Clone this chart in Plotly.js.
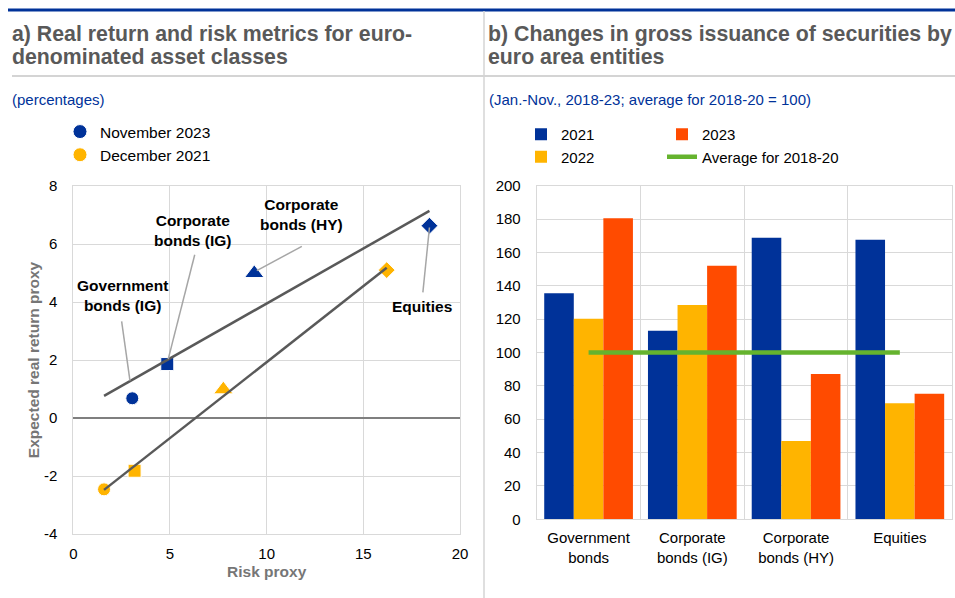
<!DOCTYPE html>
<html>
<head>
<meta charset="utf-8">
<script src="https://cdn.plot.ly/plotly-3.0.1.min.js"></script>
<style>html,body{margin:0;padding:0;background:#fff;}#chart{width:955px;height:598px;}</style>
</head>
<body>
<div id="chart"></div>
<script>
// ---------- Panel a) data ----------
const assetClasses = ['Government bonds (IG)', 'Corporate bonds (IG)', 'Corporate bonds (HY)', 'Equities'];
const assetSymbols = ['circle', 'square', 'triangle-up', 'diamond'];
const nov2023Risk = [3.05, 4.86, 9.36, 18.42];
const nov2023Return = [0.68, 1.86, 4.99, 6.63];
const dec2021Risk = [1.59, 3.17, 7.76, 16.21];
const dec2021Return = [-2.46, -1.82, 0.98, 5.10];
const seriesA = ['November 2023', 'December 2021'];
const riskTicks = [0, 5, 10, 15, 20];
const returnTicks = [-4, -2, 0, 2, 4, 6, 8];
const returnTickText = ['-4', '-2', '0', '2', '4', '6', '8'];

// ---------- Panel b) data ----------
const categories = ['Government bonds', 'Corporate bonds (IG)', 'Corporate bonds (HY)', 'Equities'];
const categoryTickText = ['Government<br>bonds', 'Corporate<br>bonds (IG)', 'Corporate<br>bonds (HY)', 'Equities'];
const issuance2021 = [135.5, 113.1, 168.8, 167.6];
const issuance2022 = [120.3, 128.5, 46.9, 69.5];
const issuance2023 = [180.5, 152.0, 87.1, 75.3];
const average2018to20 = [100, 100, 100, 100];

const FONT = 'Liberation Sans, Arial, sans-serif';
const BLUE = '#003299', YELLOW = '#ffb400', ORANGE = '#ff4b00', GREEN = '#65b32e';
const GRID = '#d9d9d9', TITLEGRAY = '#595959';
const markerSizes = [13, 13, 17, 13];

function fit(xs, ys) {
  const n = xs.length;
  const mx = xs.reduce((a, b) => a + b, 0) / n;
  const my = ys.reduce((a, b) => a + b, 0) / n;
  let sxy = 0, sxx = 0;
  for (let i = 0; i < n; i++) { sxy += (xs[i] - mx) * (ys[i] - my); sxx += (xs[i] - mx) ** 2; }
  const b = sxy / sxx, a = my - b * mx;
  return x => a + b * x;
}
const allRisk = nov2023Risk.concat(dec2021Risk);
const fNov = fit(nov2023Risk, nov2023Return);
const fDec = fit(dec2021Risk, dec2021Return);
const novX = [Math.min(...allRisk), Math.max(...nov2023Risk)];
const decX = [Math.min(...dec2021Risk), Math.max(...dec2021Risk)];

const traces = [
  {type: 'scatter', mode: 'markers', name: seriesA[0], x: nov2023Risk, y: nov2023Return, text: assetClasses,
   marker: {color: BLUE, size: markerSizes, symbol: assetSymbols, opacity: 1}, xaxis: 'x', yaxis: 'y', legend: 'legend'},
  {type: 'scatter', mode: 'markers', name: seriesA[1], x: dec2021Risk, y: dec2021Return, text: assetClasses,
   marker: {color: YELLOW, size: markerSizes, symbol: assetSymbols, opacity: 1}, xaxis: 'x', yaxis: 'y', legend: 'legend'},
  {type: 'scatter', mode: 'lines', x: novX, y: novX.map(fNov), line: {color: '#595959', width: 2.5},
   showlegend: false, hoverinfo: 'skip', xaxis: 'x', yaxis: 'y'},
  {type: 'scatter', mode: 'lines', x: decX, y: decX.map(fDec), line: {color: '#595959', width: 2.5},
   showlegend: false, hoverinfo: 'skip', xaxis: 'x', yaxis: 'y'},

  {type: 'bar', name: '2021', x: categories, y: issuance2021, marker: {color: BLUE}, xaxis: 'x2', yaxis: 'y2', legend: 'legend2'},
  {type: 'bar', name: '2022', x: categories, y: issuance2022, marker: {color: YELLOW}, xaxis: 'x2', yaxis: 'y2', legend: 'legend2'},
  {type: 'bar', name: '2023', x: categories, y: issuance2023, marker: {color: ORANGE}, xaxis: 'x2', yaxis: 'y2', legend: 'legend3'},
  {type: 'scatter', mode: 'lines', name: 'Average for 2018-20', x: categories, y: average2018to20,
   line: {color: GREEN, width: 4.5}, xaxis: 'x2', yaxis: 'y2', legend: 'legend3'}
];

const W = 955, H = 598;
const px = v => v / W, py = v => 1 - v / H;

const labelFont = {family: FONT, size: 15.5, color: '#000'};
const annoLeft = [
  {text: 'Government<br>bonds (IG)', x: 2.53, y: 4.22},
  {text: 'Corporate<br>bonds (IG)', x: 6.21, y: 6.46},
  {text: 'Corporate<br>bonds (HY)', x: 11.82, y: 7.03},
  {text: 'Equities', x: 18.05, y: 3.84}
].map(a => ({xref: 'x', yref: 'y', x: a.x, y: a.y, text: '<b>' + a.text + '</b>', showarrow: false,
  font: labelFont, xanchor: 'center', yanchor: 'middle'}));

const leaders = [
  [2.50, 3.33, 2.93, 1.29],
  [6.28, 5.63, 4.91, 2.03],
  [11.82, 5.92, 9.49, 5.08],
  [18.08, 4.33, 18.42, 6.57]
].map(l => ({type: 'line', xref: 'x', yref: 'y', x0: l[0], y0: l[1], x1: l[2], y1: l[3],
  line: {color: '#a6a6a6', width: 1.5}, layer: 'above'}));

const titleAnn = (text, x, y, size, color, bold) => ({xref: 'paper', yref: 'paper', x: px(x), y: py(y),
  xanchor: 'left', yanchor: 'middle', showarrow: false, text: bold ? '<b>' + text + '</b>' : text,
  font: {family: FONT, size: size, color: color}});

const annotations = annoLeft.concat([
  titleAnn('a) Real return and risk metrics for euro-', 10, 33.5, 21.3, TITLEGRAY, true),
  titleAnn('denominated asset classes', 10, 57.5, 21.3, TITLEGRAY, true),
  titleAnn('b) Changes in gross issuance of securities by', 486, 33.5, 21.3, TITLEGRAY, true),
  titleAnn('euro area entities', 486, 57.5, 21.3, TITLEGRAY, true),
  titleAnn('(percentages)', 10, 99, 15, BLUE, false),
  titleAnn('(Jan.-Nov., 2018-23; average for 2018-20 = 100)', 487, 99, 15, BLUE, false)
]);

const frame = [
  {type: 'line', xref: 'paper', yref: 'paper', x0: px(8), x1: 1, y0: py(10), y1: py(10), line: {color: BLUE, width: 3}},
  {type: 'line', xref: 'paper', yref: 'paper', x0: px(12), x1: 1, y0: py(76), y1: py(76), line: {color: '#d4d4d4', width: 2}},
  {type: 'line', xref: 'paper', yref: 'paper', x0: px(484), x1: px(484), y0: py(11), y1: 0, line: {color: '#d4d4d4', width: 1.5}}
];

const tickFont = {family: FONT, size: 15, color: '#000'};
const axTitleFont = {family: FONT, size: 15.5, color: '#767676'};

const layout = {
  width: W, height: H,
  margin: {l: 0, r: 0, t: 0, b: 0},
  paper_bgcolor: '#fff', plot_bgcolor: '#fff',
  font: {family: FONT, size: 15, color: '#000'},
  showlegend: true,
  barmode: 'group', bargap: 0.145, bargroupgap: 0,
  xaxis: {domain: [px(73.3), px(460)], range: [0, 20], tickmode: 'array', tickvals: riskTicks,
    showgrid: true, gridcolor: GRID, gridwidth: 1, zeroline: false,
    showline: true, linecolor: GRID, linewidth: 1, mirror: true,
    tickfont: tickFont, ticklabelstandoff: 6, fixedrange: true,
    title: {text: '<b>Risk proxy</b>', font: axTitleFont, standoff: 5}},
  yaxis: {domain: [py(534), py(186)], range: [-4, 8], tickmode: 'array', tickvals: returnTicks, ticktext: returnTickText,
    showgrid: true, gridcolor: GRID, gridwidth: 1,
    zeroline: true, zerolinecolor: '#7f7f7f', zerolinewidth: 1.5,
    showline: true, linecolor: GRID, linewidth: 1, mirror: true,
    tickfont: tickFont, ticklabelstandoff: 12,
    title: {text: '<b>Expected real return proxy</b>', font: axTitleFont, standoff: 0}},
  xaxis2: {domain: [px(536.7), px(951.7)], anchor: 'y2', type: 'category', range: [-0.5, 3.5],
    tickson: 'boundaries', ticks: '', showgrid: true, gridcolor: GRID, gridwidth: 1,
    showline: true, linecolor: GRID, linewidth: 1, mirror: true,
    tickmode: 'array', tickvals: categories, ticktext: categoryTickText,
    tickfont: tickFont, ticklabelstandoff: 5},
  yaxis2: {domain: [py(519.3), py(185.7)], anchor: 'x2', range: [0, 200], dtick: 20,
    showgrid: true, gridcolor: GRID, gridwidth: 1, zeroline: false,
    showline: true, linecolor: GRID, linewidth: 1, mirror: true,
    tickfont: tickFont, ticklabelstandoff: 12},
  legend: {x: px(60), y: py(115), xanchor: 'left', yanchor: 'top', bgcolor: 'rgba(0,0,0,0)',
    font: {family: FONT, size: 15.5, color: '#000'}, tracegroupgap: 0, itemclick: false},
  legend2: {x: px(521), y: py(118), xanchor: 'left', yanchor: 'top', bgcolor: 'rgba(0,0,0,0)',
    font: {family: FONT, size: 15, color: '#000'}, tracegroupgap: 0, itemclick: false},
  legend3: {x: px(662), y: py(118), xanchor: 'left', yanchor: 'top', bgcolor: 'rgba(0,0,0,0)',
    font: {family: FONT, size: 15, color: '#000'}, tracegroupgap: 0, itemclick: false},
  annotations: annotations,
  shapes: frame.concat(leaders)
};

Plotly.newPlot('chart', traces, layout, {displayModeBar: false, staticPlot: true});
</script>
</body>
</html>
